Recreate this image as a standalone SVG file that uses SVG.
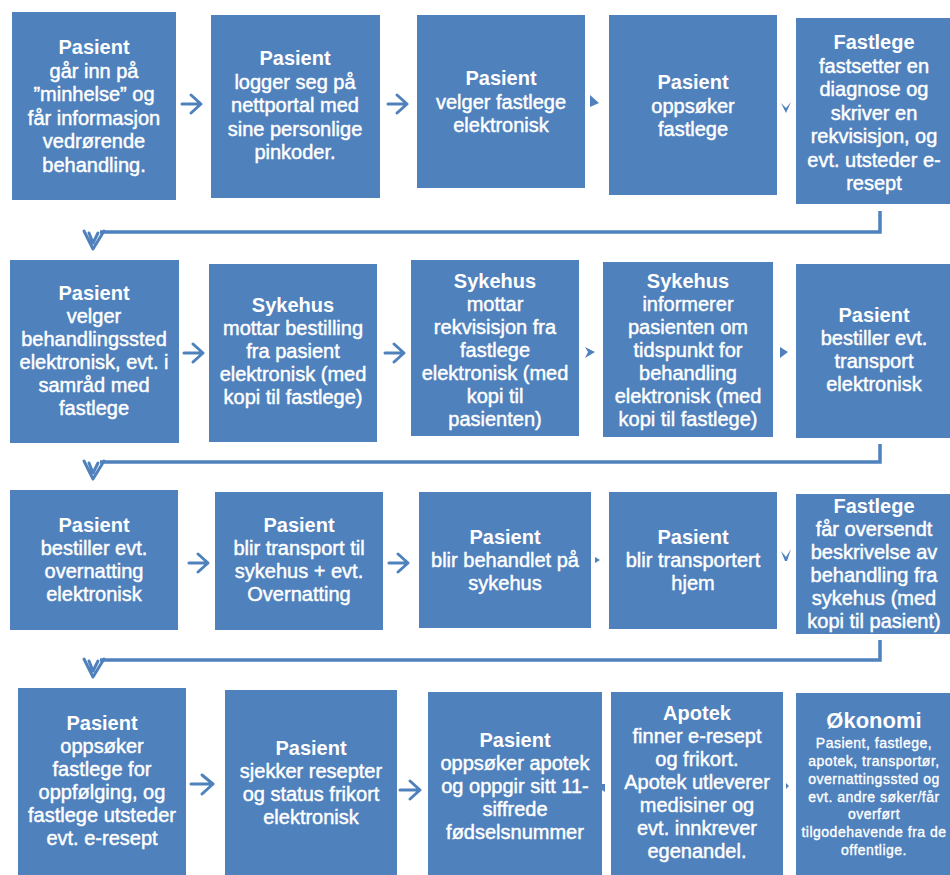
<svg xmlns="http://www.w3.org/2000/svg" width="950" height="875" viewBox="0 0 950 875">
<style>
.box{fill:#4F81BD}
text{font-family:"Liberation Sans",Arial,sans-serif;font-size:20px;fill:#ffffff;text-anchor:middle;stroke:#ffffff;stroke-width:0.45px}
.h{font-weight:bold;stroke-width:0}
.eh{font-size:22px}
.sm{font-size:14px;letter-spacing:0.5px;stroke-width:0.35px}
.arr{fill:none;stroke:#4F81BD;stroke-width:3;stroke-linecap:round;stroke-linejoin:round}
.conn{fill:none;stroke:#4F81BD;stroke-width:3.5}
.tri{fill:#4F81BD}
</style>
<rect width="950" height="875" fill="#ffffff"/>

<g id="connectors">
  <path class="arr" d="M182,104 H201 M191,95 L201,104 L191,113"/>
  <path class="arr" d="M388,104 H407 M397,95 L407,104 L397,113"/>
  <path class="tri" d="M590,95 L599,103 L590,107 Z"/>
  <path class="tri" d="M781,103 L786,108 L791,102 L786,113 Z"/>

  <path class="arr" d="M184,353 H203 M193,344 L203,353 L193,362"/>
  <path class="arr" d="M385,353 H404 M394,344 L404,353 L394,362"/>
  <path class="tri" d="M585,347 L595,352 L585,358 L588,352 Z"/>
  <path class="tri" d="M780,347 L788,352 L780,358 Z"/>

  <path class="arr" d="M189,563 H208 M198,554 L208,563 L198,572"/>
  <path class="arr" d="M389,563 H408 M398,554 L408,563 L398,572"/>
  <path class="tri" d="M595,557 L600,560 L595,563 Z"/>
  <path class="tri" d="M781,551 L786,557 L791,549 L787,561 L785,561 Z"/>

  <path class="arr" d="M191,784 H213 M202,775 L213,784 L202,794"/>
  <path class="arr" d="M400,790 H420 M410,781 L420,790 L410,799"/>
  <path class="tri" d="M602,784 L605,784 L605,792 L602,790 Z"/>
  <path class="tri" d="M786,783 L789,786 L786,789 Z"/>

  <path class="conn" d="M880,211 V232 H100"/>
  <path class="arr" d="M84,231 L93,249 L104,231 M89,233 L93,243 L98,233"/>

  <path class="conn" d="M880,444 V462 H100"/>
  <path class="arr" d="M84,461 L93,479 L104,461 M89,463 L93,473 L98,463"/>

  <path class="conn" d="M880,640 V660 H100"/>
  <path class="arr" d="M84,659 L93,677 L104,659 M89,661 L93,671 L98,661"/>
</g>

<g id="r1b1"><rect class="box" x="12" y="12" width="164" height="188"/>
<text x="94" y="54"><tspan class="h">Pasient</tspan><tspan x="94" dy="23.5">går inn på</tspan><tspan x="94" dy="23.5">”minhelse” og</tspan><tspan x="94" dy="23.5">får informasjon</tspan><tspan x="94" dy="23.5">vedrørende</tspan><tspan x="94" dy="23.5">behandling.</tspan></text></g>
<g id="r1b2"><rect class="box" x="211" y="15" width="169" height="183"/>
<text x="295" y="65"><tspan class="h">Pasient</tspan><tspan x="295" dy="23.5">logger seg på</tspan><tspan x="295" dy="23.5">nettportal med</tspan><tspan x="295" dy="23.5">sine personlige</tspan><tspan x="295" dy="23.5">pinkoder.</tspan></text></g>
<g id="r1b3"><rect class="box" x="417" y="15" width="168" height="173"/>
<text x="501" y="85"><tspan class="h">Pasient</tspan><tspan x="501" dy="23.5">velger fastlege</tspan><tspan x="501" dy="23.5">elektronisk</tspan></text></g>
<g id="r1b4"><rect class="box" x="609" y="15" width="168" height="180"/>
<text x="693" y="89"><tspan class="h">Pasient</tspan><tspan x="693" dy="23.5">oppsøker</tspan><tspan x="693" dy="23.5">fastlege</tspan></text></g>
<g id="r1b5"><rect class="box" x="796" y="18" width="160" height="186"/>
<text x="874" y="49"><tspan class="h">Fastlege</tspan><tspan x="874" dy="23.5">fastsetter en</tspan><tspan x="874" dy="23.5">diagnose og</tspan><tspan x="874" dy="23.5">skriver en</tspan><tspan x="874" dy="23.5">rekvisisjon, og</tspan><tspan x="874" dy="23.5">evt. utsteder e-</tspan><tspan x="874" dy="23.5">resept</tspan></text></g>

<g id="r2b1"><rect class="box" x="10" y="260" width="169" height="183"/>
<text x="94" y="300"><tspan class="h">Pasient</tspan><tspan x="94" dy="23">velger</tspan><tspan x="94" dy="23">behandlingssted</tspan><tspan x="94" dy="23">elektronisk, evt. i</tspan><tspan x="94" dy="23">samråd med</tspan><tspan x="94" dy="23">fastlege</tspan></text></g>
<g id="r2b2"><rect class="box" x="209" y="264" width="168" height="178"/>
<text x="293" y="312"><tspan class="h">Sykehus</tspan><tspan x="293" dy="23">mottar bestilling</tspan><tspan x="293" dy="23">fra pasient</tspan><tspan x="293" dy="23">elektronisk (med</tspan><tspan x="293" dy="23">kopi til fastlege)</tspan></text></g>
<g id="r2b3"><rect class="box" x="411" y="260" width="168" height="176"/>
<text x="495" y="288"><tspan class="h">Sykehus</tspan><tspan x="495" dy="23">mottar</tspan><tspan x="495" dy="23">rekvisisjon fra</tspan><tspan x="495" dy="23">fastlege</tspan><tspan x="495" dy="23">elektronisk (med</tspan><tspan x="495" dy="23">kopi til</tspan><tspan x="495" dy="23">pasienten)</tspan></text></g>
<g id="r2b4"><rect class="box" x="603" y="262" width="170" height="175"/>
<text x="688" y="288"><tspan class="h">Sykehus</tspan><tspan x="688" dy="23">informerer</tspan><tspan x="688" dy="23">pasienten om</tspan><tspan x="688" dy="23">tidspunkt for</tspan><tspan x="688" dy="23">behandling</tspan><tspan x="688" dy="23">elektronisk (med</tspan><tspan x="688" dy="23">kopi til fastlege)</tspan></text></g>
<g id="r2b5"><rect class="box" x="796" y="264" width="160" height="174"/>
<text x="874" y="322"><tspan class="h">Pasient</tspan><tspan x="874" dy="23">bestiller evt.</tspan><tspan x="874" dy="23">transport</tspan><tspan x="874" dy="23">elektronisk</tspan></text></g>

<g id="r3b1"><rect class="box" x="10" y="490" width="168" height="140"/>
<text x="94" y="532"><tspan class="h">Pasient</tspan><tspan x="94" dy="23">bestiller evt.</tspan><tspan x="94" dy="23">overnatting</tspan><tspan x="94" dy="23">elektronisk</tspan></text></g>
<g id="r3b2"><rect class="box" x="215" y="492" width="168" height="138"/>
<text x="299" y="532"><tspan class="h">Pasient</tspan><tspan x="299" dy="23">blir transport til</tspan><tspan x="299" dy="23">sykehus + evt.</tspan><tspan x="299" dy="23">Overnatting</tspan></text></g>
<g id="r3b3"><rect class="box" x="419" y="492" width="172" height="136"/>
<text x="505" y="544"><tspan class="h">Pasient</tspan><tspan x="505" dy="23">blir behandlet på</tspan><tspan x="505" dy="23">sykehus</tspan></text></g>
<g id="r3b4"><rect class="box" x="609" y="492" width="168" height="137"/>
<text x="693" y="544"><tspan class="h">Pasient</tspan><tspan x="693" dy="23">blir transportert</tspan><tspan x="693" dy="23">hjem</tspan></text></g>
<g id="r3b5"><rect class="box" x="796" y="494" width="160" height="140"/>
<text x="874" y="513"><tspan class="h">Fastlege</tspan><tspan x="874" dy="23">får oversendt</tspan><tspan x="874" dy="23">beskrivelse av</tspan><tspan x="874" dy="23">behandling fra</tspan><tspan x="874" dy="23">sykehus (med</tspan><tspan x="874" dy="23">kopi til pasient)</tspan></text></g>

<g id="r4b1"><rect class="box" x="18" y="688" width="168" height="190"/>
<text x="102" y="730"><tspan class="h">Pasient</tspan><tspan x="102" dy="23">oppsøker</tspan><tspan x="102" dy="23">fastlege for</tspan><tspan x="102" dy="23">oppfølging, og</tspan><tspan x="102" dy="23">fastlege utsteder</tspan><tspan x="102" dy="23">evt. e-resept</tspan></text></g>
<g id="r4b2"><rect class="box" x="225" y="690" width="172" height="188"/>
<text x="311" y="755"><tspan class="h">Pasient</tspan><tspan x="311" dy="23">sjekker resepter</tspan><tspan x="311" dy="23">og status frikort</tspan><tspan x="311" dy="23">elektronisk</tspan></text></g>
<g id="r4b3"><rect class="box" x="428" y="692" width="174" height="186"/>
<text x="515" y="747"><tspan class="h">Pasient</tspan><tspan x="515" dy="23">oppsøker apotek</tspan><tspan x="515" dy="23">og oppgir sitt 11-</tspan><tspan x="515" dy="23">siffrede</tspan><tspan x="515" dy="23">fødselsnummer</tspan></text></g>
<g id="r4b4"><rect class="box" x="611" y="692" width="172" height="186"/>
<text x="697" y="720"><tspan class="h">Apotek</tspan><tspan x="697" dy="23">finner e-resept</tspan><tspan x="697" dy="23">og frikort.</tspan><tspan x="697" dy="23">Apotek utleverer</tspan><tspan x="697" dy="23">medisiner og</tspan><tspan x="697" dy="23">evt. innkrever</tspan><tspan x="697" dy="23">egenandel.</tspan></text></g>
<g id="r4b5"><rect class="box" x="796" y="693" width="160" height="185"/>
<text x="874" y="728" class="h eh">Økonomi</text>
<text x="874" y="748" class="sm"><tspan>Pasient, fastlege,</tspan><tspan x="874" dy="18">apotek, transportør,</tspan><tspan x="874" dy="18">overnattingssted og</tspan><tspan x="874" dy="18">evt. andre søker/får</tspan><tspan x="874" dy="17">overført</tspan><tspan x="874" dy="18">tilgodehavende fra de</tspan><tspan x="874" dy="18">offentlige.</tspan></text></g>
</svg>
